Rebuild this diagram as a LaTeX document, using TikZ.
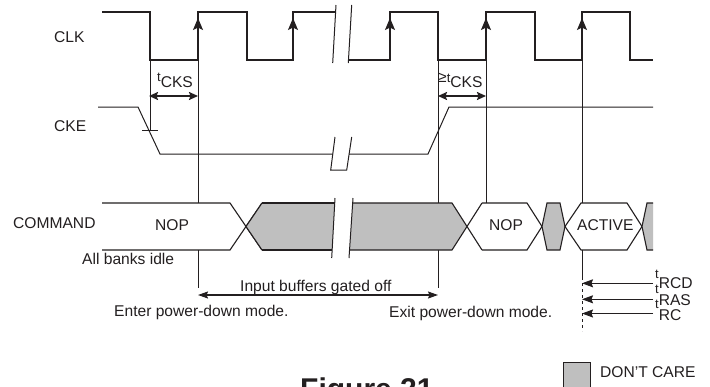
\documentclass[tikz,border=0pt]{standalone}
\usepackage{fontspec}
\setmainfont{Liberation Sans}
\usetikzlibrary{arrows.meta}
\definecolor{dcgray}{RGB}{191,191,191}
\definecolor{ink}{RGB}{35,31,32}
\begin{document}
\begin{tikzpicture}[x=1pt,y=-1pt,
  lbl/.style={inner sep=0pt, anchor=base west, font=\fontsize{15.6}{18}\selectfont, text=ink},
  clkline/.style={line width=2.6pt, line join=miter, draw=ink},
  thinline/.style={line width=1pt, draw=ink},
  busline/.style={line width=1.1pt, draw=ink, line join=miter},
  dcfill/.style={fill=dcgray},
  edgetip/.style={-{Stealth[length=12pt,width=10pt,inset=2.5pt]}, line width=1pt, draw=ink},
  dimarrow/.style={{Stealth[length=9pt,width=8pt,inset=1.5pt]}-{Stealth[length=9pt,width=8pt,inset=1.5pt]}, line width=2.2pt, draw=ink},
  spanarrow/.style={{Stealth[length=10pt,width=7pt,inset=1.5pt]}-{Stealth[length=10pt,width=7pt,inset=1.5pt]}, line width=1.3pt, draw=ink},
  reqarrow/.style={-{Stealth[length=11pt,width=8pt,inset=1.5pt]}, line width=1pt, draw=ink},
  tsmall/.style={}
]
\useasboundingbox (0,0) rectangle (710,386);
\fill[white] (0,0) rectangle (710,386);

% ---------- signal names ----------
\node[lbl] (clkname) at (54,42) {CLK};
\node[lbl] (ckename) at (54,131) {CKE};
\node[lbl] (cmdname) at (13,228.3) {COMMAND};

% ---------- CLK ----------
\draw[clkline] (102,12) -- (150,12) -- (150,60) -- (198,60) -- (198,12) -- (247,12)
  -- (247,60) -- (293,60) -- (293,12) -- (335.5,12);
\draw[clkline] (348.5,60) -- (390,60) -- (390,12) -- (438,12) -- (438,60) -- (486,60)
  -- (486,12) -- (535,12) -- (535,60) -- (582,60) -- (582,12) -- (630,12) -- (630,60) -- (653,60);
% rising edge arrows
\foreach \x/\n in {198/a,293/b,390/c,486/d,582/e}{
  \coordinate (eb\n) at (\x,36);
  \coordinate (et\n) at (\x,18);
  \draw[edgetip] (eb\n) -- (et\n);
}
% break marks
\draw[thinline] (336,5) -- (332.7,63);
\draw[thinline] (351.7,5) -- (348.3,63);

% ---------- timing verticals ----------
\coordinate (va1) at (150,60); \coordinate (va2) at (150,130);
\draw[thinline] (va1) -- (va2);
\coordinate (tk1) at (142,130); \coordinate (tk2) at (158,130);
\draw[thinline] (tk1) -- (tk2);

\coordinate (vb1) at (198,60); \coordinate (vb2) at (198,203);
\coordinate (vb3) at (198,250); \coordinate (vb4) at (198,288);
\draw[thinline] (vb1) -- (vb2) (vb3) -- (vb4);

\coordinate (vc1) at (438,60); \coordinate (vc2) at (438,203);
\coordinate (vc3) at (438,250); \coordinate (vc4) at (438,288);
\draw[thinline] (vc1) -- (vc2) (vc3) -- (vc4);

\coordinate (vd1) at (486,60); \coordinate (vd2) at (486,203);
\draw[thinline] (vd1) -- (vd2);

\coordinate (ve1) at (582,60); \coordinate (ve2) at (582,203);
\coordinate (ve3) at (582,250); \coordinate (ve4) at (582,277); \coordinate (ve5) at (582,331);
\draw[thinline] (ve1) -- (ve2) (ve3) -- (ve4);
\draw[thinline, dash pattern=on 3pt off 3pt] (ve4) -- (ve5);

% ---------- CKE ----------
\draw[thinline, line join=miter] (98,107) -- (138,107) -- (160,154) -- (332.8,154);
\draw[thinline, line join=miter] (349.1,154) -- (428,154) -- (449,107) -- (653,107);
\draw[thinline] (335,137) -- (330.7,170) -- (346.7,170) -- (351.7,137);

% ---------- tCKS ----------
\coordinate (ta) at (149,96); \coordinate (tb) at (198,96);
\draw[dimarrow] (ta) -- (tb);
\node[lbl] (tcks) at (157,87.5) {\raisebox{5.6pt}{\fontsize{13}{15}\selectfont t}CKS};
\coordinate (tc) at (438,96); \coordinate (td) at (486,96);
\draw[dimarrow] (tc) -- (td);
\node[lbl] (gtcks) at (438,87.5) {\raisebox{5pt}{≥\fontsize{13}{15}\selectfont t}CKS};

% ---------- COMMAND bus ----------
% NOP (white)
\draw[busline] (102,203) -- (230,203) -- (262,250);
\draw[busline] (102,250) -- (230,250) -- (262,203);
% don't care A
\fill[dcfill] (246,226.5) -- (262,203) -- (334.7,203) -- (332.2,250) -- (262,250) -- cycle;
\draw[busline] (262,203) -- (334.7,203);
\draw[busline] (262,250) -- (332.2,250);
\draw[busline] (246,226.5) -- (262,203);
\draw[busline] (246,226.5) -- (262,250);
% don't care B
\fill[dcfill] (352.7,203) -- (452,203) -- (467,226.5) -- (452,250) -- (349.6,250) -- cycle;
\draw[busline] (352.7,203) -- (452,203) -- (482,250);
\draw[busline] (349.6,250) -- (452,250) -- (482,203);
% bus break marks
\draw[thinline] (335,198) -- (331.7,258);
\draw[thinline] (353,198) -- (349,258);
% NOP hex
\draw[busline] (482,203) -- (527,203) -- (542,226.5) -- (527,250) -- (482,250);
% don't care C
\filldraw[busline, dcfill] (542,226.5) -- (547,203) -- (560,203) -- (565,226.5) -- (560,250) -- (547,250) -- cycle;
% ACTIVE hex
\draw[busline] (565,226.5) -- (581,203) -- (627,203) -- (642,226.5) -- (627,250) -- (581,250) -- cycle;
% don't care D
\fill[dcfill] (642,226.5) -- (647,203) -- (653,203) -- (653,250) -- (647,250) -- cycle;
\draw[busline] (653,203) -- (647,203) -- (642,226.5) -- (647,250) -- (653,250);

\node[lbl] (nop1) at (155,230) {NOP};
\node[lbl] (nop2) at (489,230.5) {NOP};
\node[lbl] (act) at (577,230.5) {ACTIVE};
\node[lbl] (idle) at (82,264) {All banks idle};

% ---------- power-down span ----------
\coordinate (pa) at (198,295); \coordinate (pb) at (438,295);
\draw[spanarrow] (pa) -- (pb);
\node[lbl] (ibuf) at (240,291) {Input buffers gated off};
\node[lbl] (enter) at (114,316) {Enter power-down mode.};
\node[lbl] (exit) at (389,317) {Exit power-down mode.};

% ---------- tRCD / tRAS / tRC ----------
\coordinate (r1) at (653,283.3); \coordinate (r1t) at (582,283.3);
\coordinate (r2) at (653,299.3); \coordinate (r2t) at (582,299.3);
\coordinate (r3) at (653,313.5); \coordinate (r3t) at (582,313.5);
\draw[reqarrow] (r1) -- (r1t);
\draw[reqarrow] (r2) -- (r2t);
\draw[reqarrow] (r3) -- (r3t);
\node[lbl] (trcd) at (655,288.3) {\raisebox{10pt}{\fontsize{13}{15}\selectfont t}RCD};
\node[lbl] (tras) at (655,305) {\raisebox{11.7pt}{\fontsize{13}{15}\selectfont t}RAS};
\node[lbl] (trc) at (655,320) {\raisebox{12pt}{\fontsize{13}{15}\selectfont t}RC};

% ---------- legend and caption ----------
\filldraw[dcfill, thinline] (563,362) rectangle (590,398);
\node[lbl] (dctext) at (600,377) {DON'T CARE};
\node[inner sep=0pt, anchor=base west, font=\fontsize{30}{36}\selectfont\bfseries, text=ink] (fig) at (300,399.5) {Figure 21};
\end{tikzpicture}
\end{document}
